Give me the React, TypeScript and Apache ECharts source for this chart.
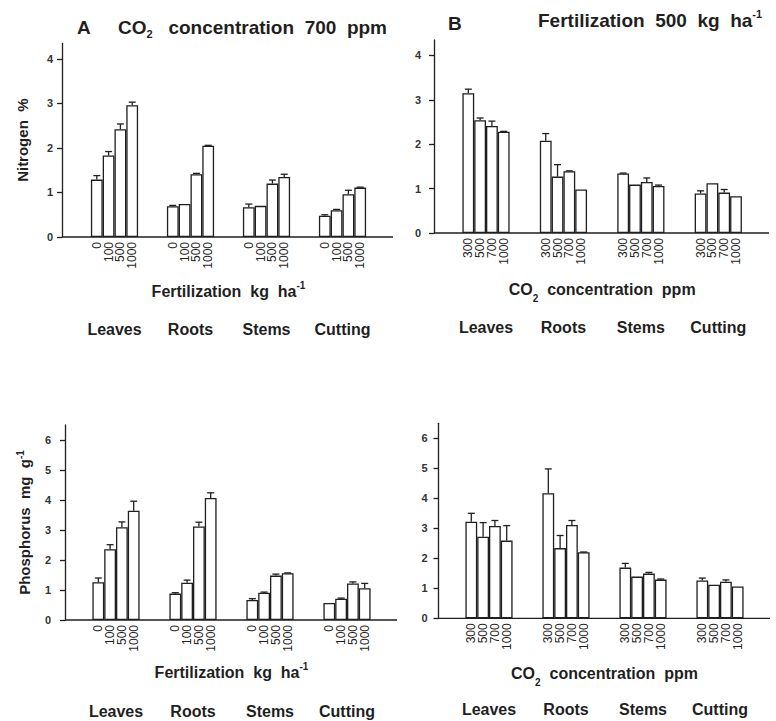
import React, { useEffect, useRef } from 'react';
import * as echarts from 'echarts';

// ---------- data ----------
const groups = ['Leaves', 'Roots', 'Stems', 'Cutting'];
const fertLevels = ['0', '100', '500', '1000'];
const co2Levels = ['300', '500', '700', '1000'];
const yTicksN = [0, 1, 2, 3, 4];
const yTicksP = [0, 1, 2, 3, 4, 5, 6];

// A: Nitrogen % at CO2 700 ppm, per fertilization level (Leaves, Roots, Stems, Cutting)
const nitrogenFert0 = [1.29, 0.69, 0.67, 0.48];
const nitrogenFert100 = [1.83, 0.74, 0.7, 0.6];
const nitrogenFert500 = [2.42, 1.41, 1.2, 0.96];
const nitrogenFert1000 = [2.96, 2.05, 1.35, 1.11];
const nitrogenFertSE0 = [0.09, 0.02, 0.07, 0.02];
const nitrogenFertSE100 = [0.09, 0, 0, 0.02];
const nitrogenFertSE500 = [0.12, 0.02, 0.08, 0.09];
const nitrogenFertSE1000 = [0.07, 0.01, 0.06, 0.01];

// B: Nitrogen % at fertilization 500, per CO2 level
const nitrogenCO2300 = [3.15, 2.08, 1.34, 0.89];
const nitrogenCO2500 = [2.54, 1.27, 1.09, 1.12];
const nitrogenCO2700 = [2.41, 1.39, 1.15, 0.91];
const nitrogenCO21000 = [2.28, 0.98, 1.06, 0.83];
const nitrogenCO2SE300 = [0.09, 0.16, 0.01, 0.06];
const nitrogenCO2SE500 = [0.05, 0.27, 0, 0];
const nitrogenCO2SE700 = [0.11, 0.01, 0.09, 0.07];
const nitrogenCO2SE1000 = [0.01, 0, 0.02, 0];

// C: Phosphorus mg/g per fertilization level
const phosFert0 = [1.26, 0.88, 0.67, 0.57];
const phosFert100 = [2.36, 1.24, 0.91, 0.71];
const phosFert500 = [3.09, 3.12, 1.48, 1.22];
const phosFert1000 = [3.64, 4.07, 1.56, 1.06];
const phosFertSE0 = [0.14, 0.03, 0.04, 0];
const phosFertSE100 = [0.15, 0.09, 0.02, 0.02];
const phosFertSE500 = [0.18, 0.14, 0.05, 0.05];
const phosFertSE1000 = [0.32, 0.17, 0.01, 0.16];

// D: Phosphorus mg/g per CO2 level
const phosCO2300 = [3.22, 4.17, 1.69, 1.26];
const phosCO2500 = [2.72, 2.34, 1.39, 1.12];
const phosCO2700 = [3.08, 3.11, 1.49, 1.22];
const phosCO21000 = [2.59, 2.2, 1.29, 1.06];
const phosCO2SE300 = [0.28, 0.81, 0.14, 0.08];
const phosCO2SE500 = [0.47, 0.42, 0, 0];
const phosCO2SE700 = [0.18, 0.15, 0.04, 0.06];
const phosCO2SE1000 = [0.5, 0.01, 0.02, 0];

// ---------- styles ----------
const FONT = "'Liberation Sans', Arial, Helvetica, sans-serif";
const INK = '#1f1f1f';
const BAR_W = 11.8;
const CAP_W = 7;
const LINE_W = 1.3;

const panels = [
  {
    levels: fertLevels,
    values: [nitrogenFert0, nitrogenFert100, nitrogenFert500, nitrogenFert1000],
    se: [nitrogenFertSE0, nitrogenFertSE100, nitrogenFertSE500, nitrogenFertSE1000],
    ticks: yTicksN,
    yMax: 4.35,
    xName: '{t|Fertilization  kg  ha}{sup|-1}',
    yName: 'Nitrogen  %',
  },
  {
    levels: co2Levels,
    values: [nitrogenCO2300, nitrogenCO2500, nitrogenCO2700, nitrogenCO21000],
    se: [nitrogenCO2SE300, nitrogenCO2SE500, nitrogenCO2SE700, nitrogenCO2SE1000],
    ticks: yTicksN,
    yMax: 4.35,
    xName: '{t|CO}{sub|2}{t|  concentration  ppm}',
    yName: '',
  },
  {
    levels: fertLevels,
    values: [phosFert0, phosFert100, phosFert500, phosFert1000],
    se: [phosFertSE0, phosFertSE100, phosFertSE500, phosFertSE1000],
    ticks: yTicksP,
    yMax: 6.5,
    xName: '{t|Fertilization  kg  ha}{sup|-1}',
    yName: '{t|Phosphorus  mg  g}{sup|-1}',
  },
  {
    levels: co2Levels,
    values: [phosCO2300, phosCO2500, phosCO2700, phosCO21000],
    se: [phosCO2SE300, phosCO2SE500, phosCO2SE700, phosCO2SE1000],
    ticks: yTicksP,
    yMax: 6.5,
    xName: '{t|CO}{sub|2}{t|  concentration  ppm}',
    yName: '',
  },
];

// layout (pixels)
const layout = [
  { axisX: 62, left: 76.5, right: 380.5, top: 43.4, bottom: 237, axisEnd: 393, labelMargin: 9, nameGap: 43, yNameGap: 30.5, catMargin: 84.5 },
  { axisX: 434, left: 447.3, right: 757, top: 39.9, bottom: 233, axisEnd: 769, labelMargin: 13, nameGap: 42, yNameGap: 30, catMargin: 86.5 },
  { axisX: 65, left: 77.5, right: 385.5, top: 425, bottom: 620, axisEnd: 397, labelMargin: 14, nameGap: 41.5, yNameGap: 31.5, catMargin: 83.5 },
  { axisX: 438.5, left: 450.5, right: 758.5, top: 423.3, bottom: 618.3, axisEnd: 770, labelMargin: 11, nameGap: 40.7, yNameGap: 30, catMargin: 83.5 },
];

const nameRich = {
  t: { fontSize: 16, fontWeight: 'bold', fontFamily: FONT, color: INK, lineHeight: 22, verticalAlign: 'middle' },
  sup: { fontSize: 10, fontWeight: 'bold', fontFamily: FONT, color: INK, lineHeight: 18, verticalAlign: 'top' },
  sub: { fontSize: 10, fontWeight: 'bold', fontFamily: FONT, color: INK, lineHeight: 6, verticalAlign: 'bottom' },
};
const co2NameRich = {
  t: { ...nameRich.t, lineHeight: 28 },
  sup: nameRich.sup,
  sub: nameRich.sub,
};
const yNameRich = {
  t: { fontSize: 15, fontWeight: 'bold', fontFamily: FONT, color: INK, lineHeight: 18, verticalAlign: 'middle' },
  sup: { fontSize: 10, fontWeight: 'bold', fontFamily: FONT, color: INK, lineHeight: 14, verticalAlign: 'top' },
};

function buildOption() {
  const grid: any[] = [];
  const xAxis: any[] = [];
  const yAxis: any[] = [];
  const series: any[] = [];
  const graphic: any[] = [];

  panels.forEach((p, pi) => {
    const L = layout[pi];
    grid.push({
      left: L.left,
      top: L.top,
      width: L.right - L.left,
      height: L.bottom - L.top,
      containLabel: false,
      outerBoundsMode: 'none',
    });
    xAxis.push({
      type: 'category',
      gridIndex: pi,
      data: groups,
      boundaryGap: true,
      axisLine: { show: false },
      axisTick: { show: false },
      axisLabel: {
        margin: L.catMargin,
        fontSize: 16,
        fontWeight: 'bold',
        fontFamily: FONT,
        color: INK,
        lineHeight: 16,
        interval: 0,
      },
      name: p.xName,
      nameLocation: 'middle',
      nameGap: L.nameGap,
      nameMoveOverlap: false,
      nameTextStyle: { rich: pi % 2 === 1 ? co2NameRich : nameRich },
    });
    yAxis.push({
      type: 'value',
      gridIndex: pi,
      min: 0,
      max: p.yMax,
      offset: L.left - L.axisX,
      splitLine: { show: false },
      axisLine: { show: true, lineStyle: { color: INK, width: LINE_W } },
      axisTick: { show: true, length: 5, customValues: p.ticks, lineStyle: { color: INK, width: LINE_W } },
      axisLabel: {
        customValues: p.ticks,
        margin: L.labelMargin,
        fontSize: 11,
        fontWeight: 'bold',
        fontFamily: FONT,
        color: '#333',
      },
      name: p.yName,
      nameLocation: 'middle',
      nameGap: L.yNameGap,
      nameRotate: 90,
      nameMoveOverlap: false,
      nameTextStyle:
        pi === 2
          ? { rich: yNameRich }
          : { fontSize: 15, fontWeight: 'bold', fontFamily: FONT, color: INK, lineHeight: 18 },
    });

    p.levels.forEach((lev, li) => {
      series.push({
        type: 'bar',
        name: lev,
        xAxisIndex: pi,
        yAxisIndex: pi,
        data: p.values[li],
        barWidth: BAR_W,
        barGap: '0%',
        silent: true,
        itemStyle: { color: '#ffffff', borderColor: INK, borderWidth: LINE_W },
        label: {
          show: true,
          position: 'bottom',
          distance: 5,
          rotate: 90,
          align: 'right',
          verticalAlign: 'middle',
          formatter: '{a}',
          fontSize: 12,
          fontFamily: FONT,
          color: INK,
        },
      });
    });

    const errData: number[][] = [];
    p.levels.forEach((_, li) => {
      groups.forEach((__, gi) => {
        errData.push([gi, li, p.values[li][gi], p.se[li][gi]]);
      });
    });
    series.push({
      type: 'custom',
      xAxisIndex: pi,
      yAxisIndex: pi,
      silent: true,
      z: 10,
      encode: { x: 0, y: 2 },
      data: errData,
      renderItem: (params: any, api: any) => {
        const gi = api.value(0);
        const li = api.value(1);
        const v = api.value(2);
        const se = api.value(3);
        if (!se || se <= 0) return null;
        const base = api.coord([gi, v]);
        const top = api.coord([gi, v + se]);
        const x = base[0] + (li - 1.5) * BAR_W;
        const style = { stroke: INK, lineWidth: LINE_W };
        return {
          type: 'group',
          children: [
            { type: 'line', shape: { x1: x, y1: base[1], x2: x, y2: top[1] }, style },
            { type: 'line', shape: { x1: x - CAP_W / 2, y1: top[1], x2: x + CAP_W / 2, y2: top[1] }, style },
          ],
        };
      },
    });

    // x-axis baseline spanning from the y-axis to the end of the panel
    graphic.push({
      type: 'line',
      silent: true,
      shape: { x1: L.axisX, y1: L.bottom, x2: L.axisEnd, y2: L.bottom },
      style: { stroke: INK, lineWidth: LINE_W },
    });
  });

  const titleRich = {
    t: { fontSize: 19, fontWeight: 'bold', fontFamily: FONT, color: INK, lineHeight: 24, verticalAlign: 'middle' },
    sub: { fontSize: 11, fontWeight: 'bold', fontFamily: FONT, color: INK, lineHeight: 4, verticalAlign: 'bottom' },
    sup: { fontSize: 11, fontWeight: 'bold', fontFamily: FONT, color: INK, lineHeight: 18, verticalAlign: 'top' },
  };

  const title = [
    { text: 'A', left: 77, top: 15, padding: 0, textStyle: { fontSize: 19, fontWeight: 'bold', fontFamily: FONT, color: INK, lineHeight: 24 } },
    { text: '{t|CO}{sub|2}{t|   concentration  700  ppm}', left: 118, top: 15, padding: 0, textStyle: { fontSize: 19, rich: titleRich } },
    { text: 'B', left: 448, top: 11.5, padding: 0, textStyle: { fontSize: 19, fontWeight: 'bold', fontFamily: FONT, color: INK, lineHeight: 24 } },
    { text: '{t|Fertilization  500  kg  ha}{sup|-1}', left: 538, top: 8.5, padding: 0, textStyle: { fontSize: 19, rich: titleRich } },
  ];

  return {
    animation: false,
    backgroundColor: '#ffffff',
    title,
    grid,
    xAxis,
    yAxis,
    series,
    graphic,
  };
}

export default function App() {
  const ref = useRef<HTMLDivElement>(null);
  useEffect(() => {
    document.body.style.margin = '0';
    if (!ref.current) return;
    const chart = echarts.init(ref.current, undefined, { renderer: 'svg' });
    chart.setOption(buildOption() as any);
    return () => chart.dispose();
  }, []);
  return <div ref={ref} style={{ width: 776, height: 721 }} />;
}
